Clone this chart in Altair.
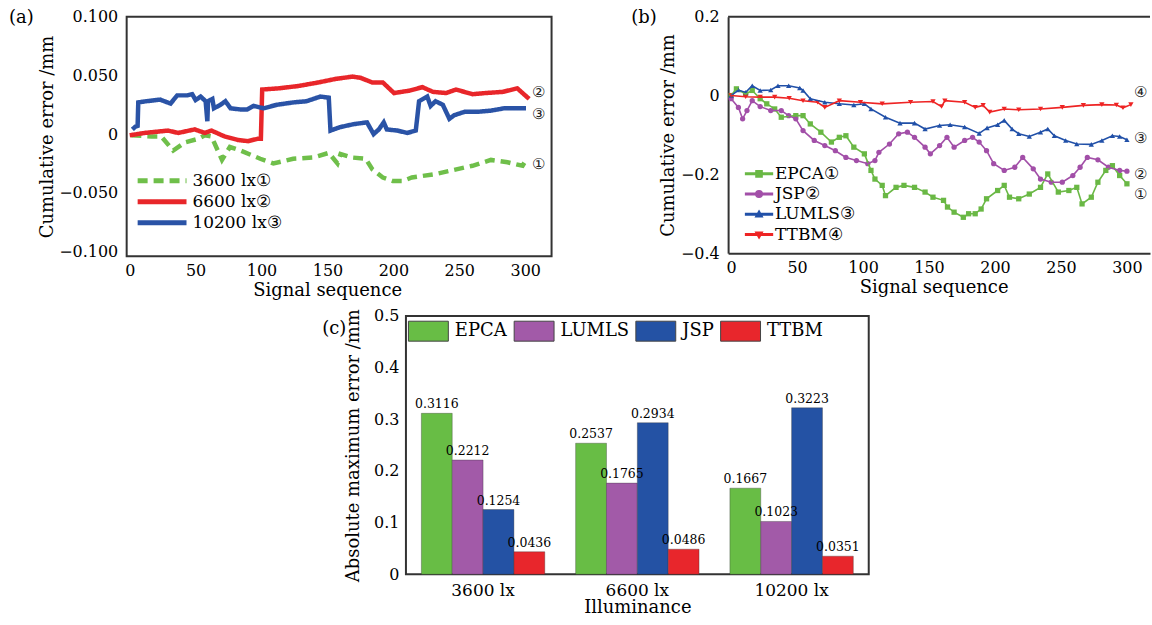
import altair as alt
import pandas as pd

FONT = "DejaVu Serif"

# ---------------- panel (a) data ----------------
A_SERIES = ["3600 lx①", "6600 lx②", "10200 lx③"]
A_COLORS = ["#6fbf4a", "#e8262a", "#2a53a6"]
a_x_3600 = [1.3, 16.5, 24, 33, 42, 52, 57, 62, 70, 76, 84, 99, 109, 124, 139, 151, 157.6, 160, 169, 179,
            184, 192, 199.6, 207, 214, 232, 244, 260, 274, 286.6, 298, 300.6]
a_y_3600 = [-0.001, -0.002, -0.002, -0.014, -0.007, -0.004, -0.001, -0.002, -0.022, -0.011,
            -0.014, -0.021, -0.025, -0.021, -0.020, -0.016, -0.025, -0.017, -0.020, -0.021,
            -0.030, -0.037, -0.040, -0.040, -0.037, -0.034, -0.031, -0.027, -0.022, -0.024, -0.027, -0.022]
a_x_6600 = [0, 11.4, 29, 36.8, 49.3, 57, 62, 72, 82, 89.6, 97, 99.5, 100.5, 113, 128, 143, 156, 169, 175, 184,
            192, 200.5, 212, 222, 230, 240, 247.5, 260, 270, 283, 294, 303]
a_y_6600 = [-0.001, 0.001, 0.003, 0.001, 0.004, 0.001, 0.003, -0.002, -0.005, -0.006,
            -0.004, -0.004, 0.038, 0.039, 0.041, 0.044, 0.047, 0.049, 0.048, 0.044,
            0.044, 0.035, 0.037, 0.040, 0.036, 0.035, 0.038, 0.034, 0.035, 0.036, 0.039, 0.030]
a_x_10200 = [2, 4.5, 6, 6.5, 12.5, 23, 31, 36, 43.6, 47.4, 50, 53.8, 57.6, 58.9, 59.4, 62.7, 63.9, 68.9, 72.6, 76.5,
             84, 89, 94, 101.6, 111.7, 124, 134, 144.7, 151, 152.3, 159.8, 170, 180, 185, 189, 192.7, 195, 203,
             210.6, 217, 219.5, 225.7, 228.3, 232, 237.5, 242.5, 246, 254, 264, 274, 284, 300.6]
a_y_10200 = [0.004, 0.0065, 0.007, 0.027, 0.028, 0.0294, 0.026, 0.033, 0.033, 0.034,
             0.029, 0.032, 0.028, 0.011, 0.028, 0.030, 0.022, 0.025, 0.028, 0.022,
             0.021, 0.021, 0.024, 0.022, 0.025, 0.027, 0.028, 0.032, 0.031, 0.003,
             0.006, 0.0085, 0.010, 0.0, 0.004, 0.010, 0.004, 0.003, 0.001, 0.003,
             0.028, 0.032, 0.024, 0.028, 0.025, 0.013, 0.016, 0.019, 0.019, 0.020, 0.022, 0.022]
a_end_text = ["②", "③", "①"]
a_end_x = [310, 310, 310]
a_end_y = [0.036, 0.017, -0.0254]

# ---------------- panel (b) data ----------------
B_SERIES = ["EPCA①", "JSP②", "LUMLS③", "TTBM④"]
B_COLORS = ["#6ab845", "#a24fa8", "#2150a8", "#ee2424"]
B_SHAPES = ["square", "circle", "triangle-up", "triangle-down"]
b_x_epca = [0, 4, 11, 16, 22, 27, 33, 38, 49, 54.5, 60, 68, 76, 82, 87, 93, 101, 106, 109, 114.5,
            117, 125, 131, 139, 147, 153, 161, 164, 169, 176, 180, 185, 189.5, 193.6, 202, 207, 211, 218, 226, 234.5,
            240, 248, 256, 262, 266, 273, 278, 284, 289, 294.5, 300]
b_y_epca = [0, 0.017, 0.004, 0.013, -0.008, -0.021, -0.034, -0.055, -0.051, -0.051,
            -0.072, -0.093, -0.118, -0.106, -0.102, -0.131, -0.148, -0.190, -0.212, -0.228,
            -0.254, -0.233, -0.228, -0.233, -0.245, -0.258, -0.266, -0.283, -0.296, -0.309,
            -0.300, -0.300, -0.288, -0.262, -0.241, -0.228, -0.258, -0.262, -0.250, -0.233,
            -0.199, -0.245, -0.241, -0.233, -0.275, -0.258, -0.220, -0.190, -0.178, -0.203, -0.224]
b_x_jsp = [0, 5.5, 8.7, 12, 16, 22, 30, 38, 43.6, 49, 54.5, 63, 71, 79, 87, 95, 103.6, 109, 112, 120,
           127, 133.6, 139, 147, 151, 158, 163.6, 169, 177, 183, 188, 193.6, 199, 207, 215, 221, 229, 234.5,
           242.7, 251, 259, 264.5, 270, 278, 286, 294.5, 300]
b_y_jsp = [-0.008, -0.030, -0.059, -0.038, -0.013, -0.028, -0.038, -0.038, -0.051, -0.059,
           -0.089, -0.114, -0.127, -0.140, -0.157, -0.165, -0.173, -0.165, -0.144, -0.123,
           -0.097, -0.093, -0.106, -0.131, -0.148, -0.127, -0.106, -0.131, -0.114, -0.106,
           -0.118, -0.140, -0.173, -0.190, -0.182, -0.157, -0.186, -0.212, -0.220, -0.220,
           -0.203, -0.182, -0.157, -0.163, -0.182, -0.190, -0.192]
b_x_lumls = [0, 5.5, 11, 16, 22, 30, 35.5, 43.6, 52, 54.5, 60, 71, 82, 93, 101, 106, 117, 128, 139, 147,
             158, 166, 177, 188, 194, 202, 207, 213, 218, 226, 234.5, 240, 245, 253.6, 262, 273, 281, 289, 294.5, 300]
b_y_lumls = [0, 0.014, 0.008, 0.025, 0.013, 0.014, 0.025, 0.025, 0.019, 0.013,
             -0.008, -0.017, -0.021, -0.024, -0.021, -0.034, -0.055, -0.070, -0.070, -0.085,
             -0.076, -0.074, -0.080, -0.096, -0.082, -0.074, -0.063, -0.085, -0.097, -0.104,
             -0.093, -0.085, -0.102, -0.114, -0.123, -0.124, -0.114, -0.102, -0.104, -0.112]
b_x_ttbm = [0, 11, 22, 33, 44, 54.5, 65.5, 71, 82, 98, 114.5, 136, 153, 159.5, 162, 177, 185, 191, 196, 207,
            218, 234.5, 251, 267, 281, 292, 297, 303]
b_y_ttbm = [0, -0.003, -0.004, -0.004, -0.007, -0.013, -0.017, -0.030, -0.013, -0.017,
            -0.021, -0.017, -0.015, -0.028, -0.013, -0.017, -0.030, -0.025, -0.042, -0.034,
            -0.036, -0.034, -0.030, -0.025, -0.023, -0.024, -0.031, -0.023]
b_end_text = ["④", "③", "②", "①"]
b_end_x = [310, 310, 310, 310]
b_end_y = [0.01, -0.108, -0.199, -0.25]

# ---------------- panel (c) data ----------------
C_CATS = ["3600 lx", "6600 lx", "10200 lx"]
C_METHODS = ["EPCA", "LUMLS", "JSP", "TTBM"]
C_COLORS = ["#68bd45", "#a25aa8", "#2452a4", "#e8262c"]
c_epca = [0.3116, 0.2537, 0.1667]
c_lumls = [0.2212, 0.1765, 0.1023]
c_jsp = [0.1254, 0.2934, 0.3223]
c_ttbm = [0.0436, 0.0486, 0.0351]


def long_df(field, names, xs, ys):
    rows = []
    for n, xv, yv in zip(names, xs, ys):
        for x, y in zip(xv, yv):
            rows.append({field: n, "x": x, "y": y})
    return pd.DataFrame(rows)


def panel_label(txt, dx, dy):
    return alt.Chart(pd.DataFrame({"t": [txt]})).mark_text(
        align="left", baseline="middle", font=FONT, fontSize=18, color="black"
    ).encode(text="t:N", x=alt.value(dx), y=alt.value(dy))


XTICKS = [0, 50, 100, 150, 200, 250, 300]

# ---------------- panel (a) ----------------
a_df = long_df("sa", A_SERIES, [a_x_3600, a_x_6600, a_x_10200], [a_y_3600, a_y_6600, a_y_10200])
a_legend = alt.Legend(title=None, orient="none", legendX=27, legendY=156, symbolType="M-5,0H5",
                      symbolSize=96, symbolStrokeWidth=5, labelOffset=22, rowPadding=0,
                      labelFontSize=17, labelLimit=300, padding=0)
a_lines = alt.Chart(a_df).mark_line(strokeWidth=4.5).encode(
    x=alt.X("x:Q", scale=alt.Scale(domain=[-2.3, 320], nice=False, zero=False),
            axis=alt.Axis(title="Signal sequence", values=XTICKS, format="d", labelPadding=6, titlePadding=3,
                          titleX=201)),
    y=alt.Y("y:Q", scale=alt.Scale(domain=[-0.104, 0.1], nice=False, zero=False),
            axis=alt.Axis(title="Cumulative error /mm",
                          values=[-0.1, -0.075, -0.05, -0.025, 0, 0.025, 0.05, 0.075, 0.1],
                          labelExpr="datum.value == 0 ? '0' : format(datum.value, '.3f')",
                          labelPadding=9, titlePadding=2)),
    color=alt.Color("sa:N", sort=A_SERIES, scale=alt.Scale(domain=A_SERIES, range=A_COLORS), legend=a_legend),
    strokeDash=alt.StrokeDash("sa:N", sort=A_SERIES,
                              scale=alt.Scale(domain=A_SERIES, range=[[10, 6], [1, 0], [1, 0]]), legend=a_legend),
)
a_ends = alt.Chart(pd.DataFrame({"x": a_end_x, "y": a_end_y, "t": a_end_text})).mark_text(
    fontSize=15, color="#222").encode(x="x:Q", y="y:Q", text="t:N")
a_chart = alt.layer(a_lines, a_ends, panel_label("(a)", -118, 1)).properties(width=426, height=240)

# ---------------- panel (b) ----------------
b_df = long_df("sb", B_SERIES, [b_x_epca, b_x_jsp, b_x_lumls, b_x_ttbm], [b_y_epca, b_y_jsp, b_y_lumls, b_y_ttbm])
# legend symbols: a marker with a short line on either side (all filled sub-paths)
SHAPE_EXPR = (
    "datum.value === 'EPCA①' ? "
    "'M-3.5,-0.2H-0.8V0.2H-3.5ZM0.8,-0.2H3.5V0.2H0.8ZM-0.8,-0.8H0.8V0.8H-0.8Z' : "
    "datum.value === 'JSP②' ? "
    "'M-3.5,-0.2H-0.85V0.2H-3.5ZM0.85,-0.2H3.5V0.2H0.85ZM0.85,0A0.85,0.85,0,1,1,-0.85,0A0.85,0.85,0,1,1,0.85,0Z' : "
    "datum.value === 'LUMLS③' ? "
    "'M-3.5,-0.2H-0.5V0.2H-3.5ZM0.5,-0.2H3.5V0.2H0.5ZM0,-0.9L0.85,0.6H-0.85Z' : "
    "'M-3.5,-0.2H-0.5V0.2H-3.5ZM0.5,-0.2H3.5V0.2H0.5ZM0,0.9L0.85,-0.6H-0.85Z'")
b_legend = alt.Legend(title=None, orient="none", legendX=22.5, legendY=149, symbolSize=59,
                      symbolType={"expr": SHAPE_EXPR},
                      symbolStrokeWidth=1.5, labelOffset=7.5, rowPadding=2.3, labelFontSize=17,
                      labelLimit=300, padding=0)
b_xs = alt.Scale(domain=[-2.3, 317.5], nice=False, zero=False)
b_ys = alt.Scale(domain=[-0.4, 0.2], nice=False, zero=False)
b_color_scale = alt.Scale(domain=B_SERIES, range=B_COLORS)

# legend carrier: no marks are drawn (filtered out), only the legend
b_legend_layer = alt.Chart(b_df).transform_filter("false").mark_point(filled=True, opacity=1).encode(
    x=alt.X("x:Q", scale=b_xs,
            axis=alt.Axis(title="Signal sequence", values=XTICKS, format="d", labelPadding=6, titlePadding=3,
                          titleX=206, domain=True, domainColor="#333", domainWidth=2)),
    y=alt.Y("y:Q", scale=b_ys,
            axis=alt.Axis(title="Cumulative error /mm", values=[-0.4, -0.3, -0.2, -0.1, 0, 0.1, 0.2],
                          labelExpr="datum.value == 0 ? '0' : format(datum.value, '.1f')",
                          labelPadding=9, titlePadding=3, domain=True, domainColor="#333", domainWidth=2)),
    color=alt.Color("sb:N", sort=B_SERIES, scale=b_color_scale, legend=b_legend),
)
b_point_layers = [
    alt.Chart(b_df).transform_filter(alt.datum.sb == name).mark_point(
        filled=True, size=28, opacity=1, shape=shp).encode(
        x="x:Q", y="y:Q", color=alt.Color("sb:N", sort=B_SERIES, scale=b_color_scale, legend=None))
    for name, shp in zip(B_SERIES, B_SHAPES)
]
b_lines = alt.Chart(b_df).mark_line(strokeWidth=1.6).encode(
    x="x:Q", y="y:Q",
    color=alt.Color("sb:N", sort=B_SERIES, scale=b_color_scale, legend=None),
)
b_top = alt.Chart(pd.DataFrame({"y": [0.2]})).mark_rule(color="#333", strokeWidth=2).encode(y="y:Q")
b_ends = alt.Chart(pd.DataFrame({"x": b_end_x, "y": b_end_y, "t": b_end_text})).mark_text(
    fontSize=15, color="#222").encode(x="x:Q", y="y:Q", text="t:N")
b_chart = alt.layer(b_legend_layer, *b_point_layers, b_lines, b_top, b_ends, panel_label("(b)", -97, 1)).properties(
    width=423, height=237, view=alt.ViewBackground(stroke="transparent"))

# ---------------- panel (c) ----------------
c_rows = []
for i, cat in enumerate(C_CATS):
    for m, vals in zip(C_METHODS, [c_epca, c_lumls, c_jsp, c_ttbm]):
        c_rows.append({"lux": cat, "method": m, "v": vals[i]})
c_df = pd.DataFrame(c_rows)
c_legend = alt.Legend(title=None, orient="none", direction="horizontal", columns=4, legendX=12, legendY=4.5,
                      symbolType="M-2,-1H2V1H-2Z", symbolSize=400, symbolStrokeColor="#444",
                      symbolStrokeWidth=1, labelOffset=16, columnPadding=4, labelFontSize=18,
                      labelLimit=300, padding=0)
c_base = alt.Chart(c_df).encode(
    x=alt.X("lux:N", sort=C_CATS, scale=alt.Scale(paddingInner=0.2, paddingOuter=0.1),
            axis=alt.Axis(title="Illuminance", labelAngle=0, labelFontSize=17, labelPadding=8, titlePadding=0)),
    xOffset=alt.XOffset("method:N", sort=C_METHODS, scale=alt.Scale(paddingInner=0, paddingOuter=0)),
)
c_bars = c_base.mark_bar(stroke="#333", strokeWidth=0.7, strokeOpacity=0.5).encode(
    y=alt.Y("v:Q", scale=alt.Scale(domain=[0, 0.5], nice=False),
            axis=alt.Axis(title="Absolute maximum error /mm", values=[0, 0.1, 0.2, 0.3, 0.4, 0.5],
                          labelExpr="datum.value == 0 ? '0' : format(datum.value, '.1f')",
                          labelPadding=7, titlePadding=11)),
    color=alt.Color("method:N", sort=C_METHODS, scale=alt.Scale(domain=C_METHODS, range=C_COLORS), legend=c_legend),
)
c_text = c_base.mark_text(baseline="bottom", dy=-2, font=FONT, fontSize=12.5, color="black").encode(
    y="v:Q", text=alt.Text("v:Q", format=".4f"))
c_chart = alt.layer(c_bars, c_text, panel_label("(c)", -84, 13)).properties(width=464, height=259)

spacer = alt.Chart(pd.DataFrame({"v": [0]})).mark_rule(strokeOpacity=0).encode(
    x=alt.value(0), x2=alt.value(200), y=alt.value(0)).properties(
    width=200, height=20, view=alt.ViewBackground(stroke="transparent"))

RES = dict(color="independent", strokeDash="independent", shape="independent")
row1 = alt.hconcat(a_chart, b_chart, spacing=177, bounds="flush").resolve_scale(**RES).resolve_legend(**RES)
row2 = alt.hconcat(spacer, c_chart, spacing=80, bounds="flush").resolve_scale(**RES)
chart = alt.vconcat(row1, row2, spacing=7).resolve_scale(**RES).resolve_legend(**RES).properties(
    padding={"left": 8, "top": 7, "right": 0, "bottom": 0}
).configure_view(stroke="#333", strokeWidth=2).configure_axis(
    labelFont=FONT, titleFont=FONT, labelColor="black", titleColor="black", titleFontWeight="normal",
    labelFontSize=16, titleFontSize=18, grid=False, ticks=False, domain=False
).configure_legend(labelFont=FONT, labelColor="black").configure_text(font=FONT)

chart.save("out.html", embed_options={"renderer": "svg", "actions": False})
